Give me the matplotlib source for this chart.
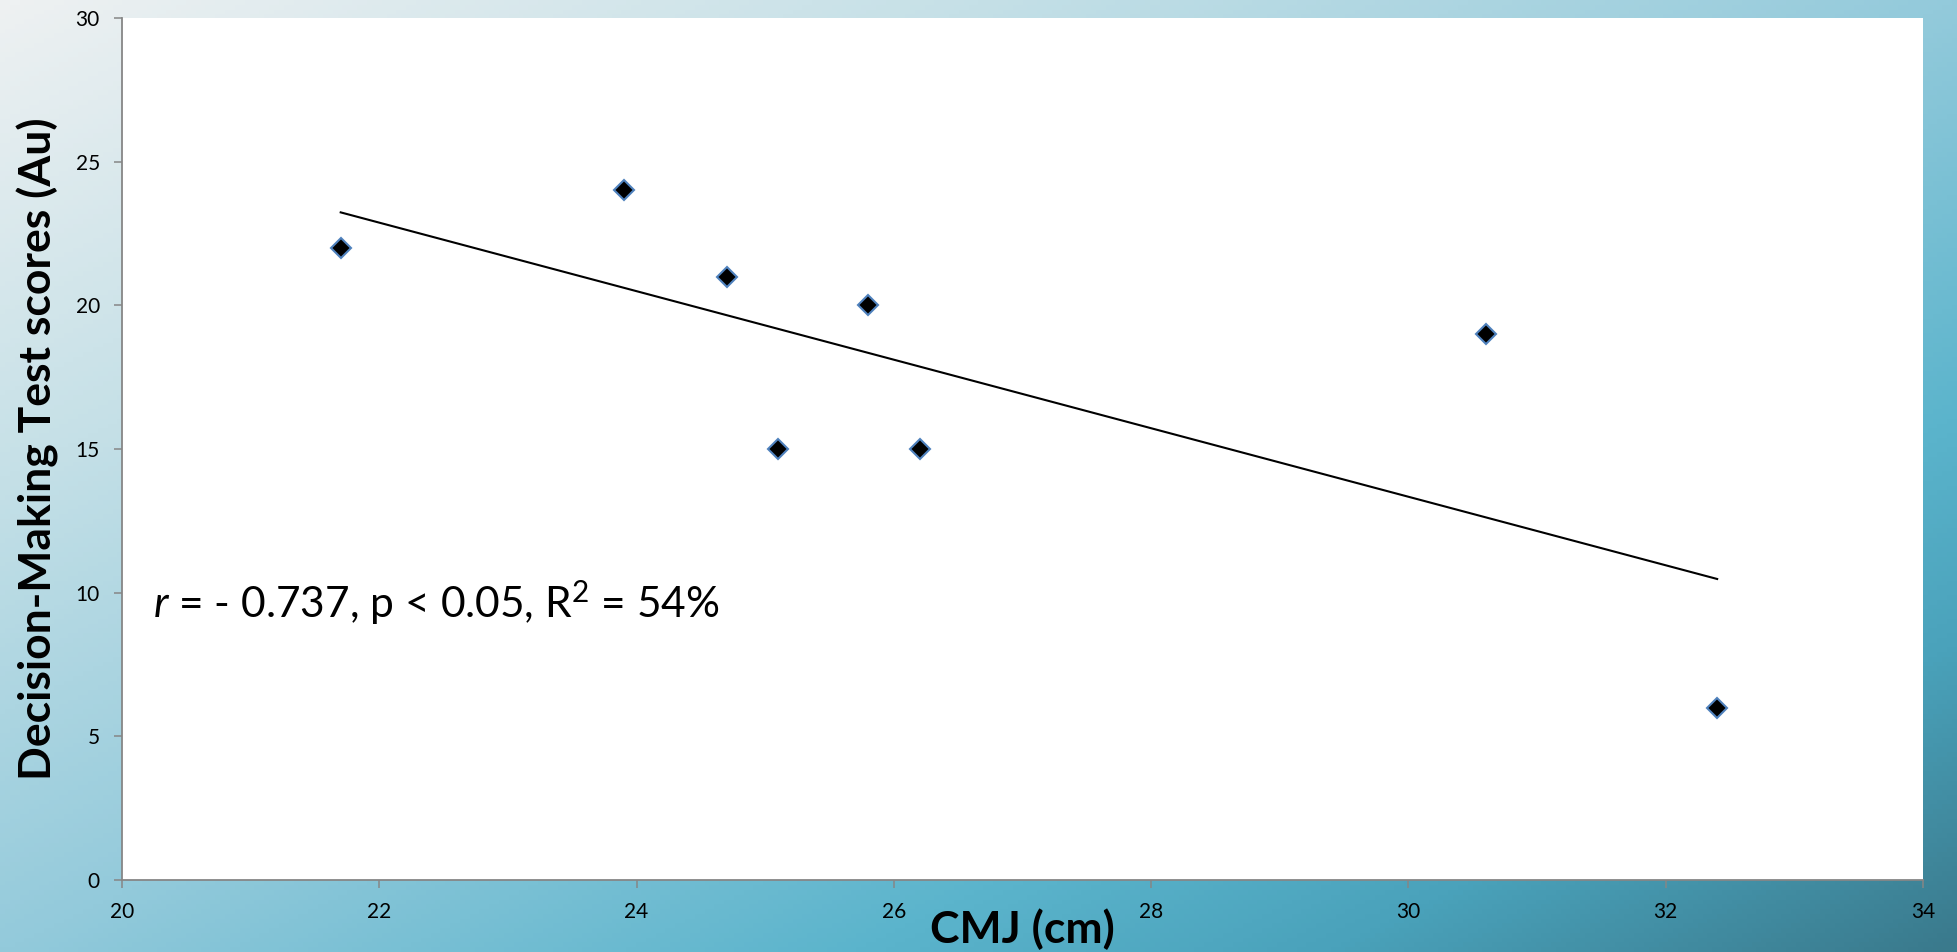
import numpy as np
import matplotlib
matplotlib.use("Agg")
import matplotlib.pyplot as plt
from matplotlib.colors import LinearSegmentedColormap

# ---- data ----
cmj_cm = [21.7, 23.9, 24.7, 25.8, 25.1, 26.2, 30.6, 32.4]
decision_scores = [22, 24, 21, 20, 15, 15, 19, 6]
x_ticks = [20, 22, 24, 26, 28, 30, 32, 34]
y_ticks = [0, 5, 10, 15, 20, 25, 30]
x_label = "CMJ (cm)"
y_label = "Decision-Making Test scores (Au)"
stats_text = "$r$ = - 0.737, p < 0.05, R$^2$ = 54%"

plt.rcParams['font.family'] = ['Lato', 'DejaVu Sans']
plt.rcParams['mathtext.fontset'] = 'custom'
plt.rcParams['mathtext.it'] = 'Lato:italic'
plt.rcParams['mathtext.rm'] = 'Lato'

W, H = 1957, 952
fig = plt.figure(figsize=(W / 100, H / 100), dpi=100)

# gradient background
bg = fig.add_axes([0, 0, 1, 1], zorder=-10)
bg.set_axis_off()
u = np.linspace(0, 1, 400)
v = np.linspace(0, 1, 200)
U, V = np.meshgrid(u, v)
T = (U + V) / 2
cmap = LinearSegmentedColormap.from_list(
    "bg",
    [(0.0, "#eef1f2"), (0.25, "#c5e0e7"), (0.5, "#93cadb"),
     (0.72, "#5bb4cc"), (0.84, "#4aa2bb"), (1.0, "#3a7a8c")])
bg.imshow(T, cmap=cmap, extent=[0, 1, 0, 1], origin='upper', aspect='auto',
          vmin=0, vmax=1)
bg.set_xlim(0, 1)
bg.set_ylim(0, 1)

left, right, top, bottom = 122, 1923, 18, 880
ax = fig.add_axes([left / W, 1 - bottom / H, (right - left) / W, (bottom - top) / H])
ax.set_facecolor("white")

x = np.array(cmj_cm)
y = np.array(decision_scores)
slope, intercept = np.polyfit(x, y, 1)
xl = np.array([x.min(), x.max()])
ax.plot(xl, slope * xl + intercept, color="black", lw=1.5, zorder=2)
ax.plot(x, y, linestyle="none", marker="D", markersize=10,
        markerfacecolor="black", markeredgecolor="#4f81bd",
        markeredgewidth=1.5, zorder=3)

ax.set_xlim(20, 34)
ax.set_ylim(0, 30)
ax.set_xticks(x_ticks)
ax.set_yticks(y_ticks)
ax.tick_params(direction="out", length=6, width=1.1, color="#868686",
               labelsize=15, pad=10, labelcolor="black")

for s in ["top", "right"]:
    ax.spines[s].set_visible(False)
for s in ["left", "bottom"]:
    ax.spines[s].set_color("#868686")
    ax.spines[s].set_linewidth(1.3)

ax.set_xlabel(x_label, fontsize=32, fontweight="bold", va="center")
ax.xaxis.set_label_coords(0.5, (bottom - 929) / (bottom - top))
ax.set_ylabel(y_label, fontsize=32, fontweight="bold", va="center")
ax.yaxis.set_label_coords((38 - left) / (right - left), 0.5)

ax.text(20.24, 9.65, stats_text, fontsize=30.6, ha="left", va="center",
        color="black")

fig.savefig("out.png", dpi=100)
